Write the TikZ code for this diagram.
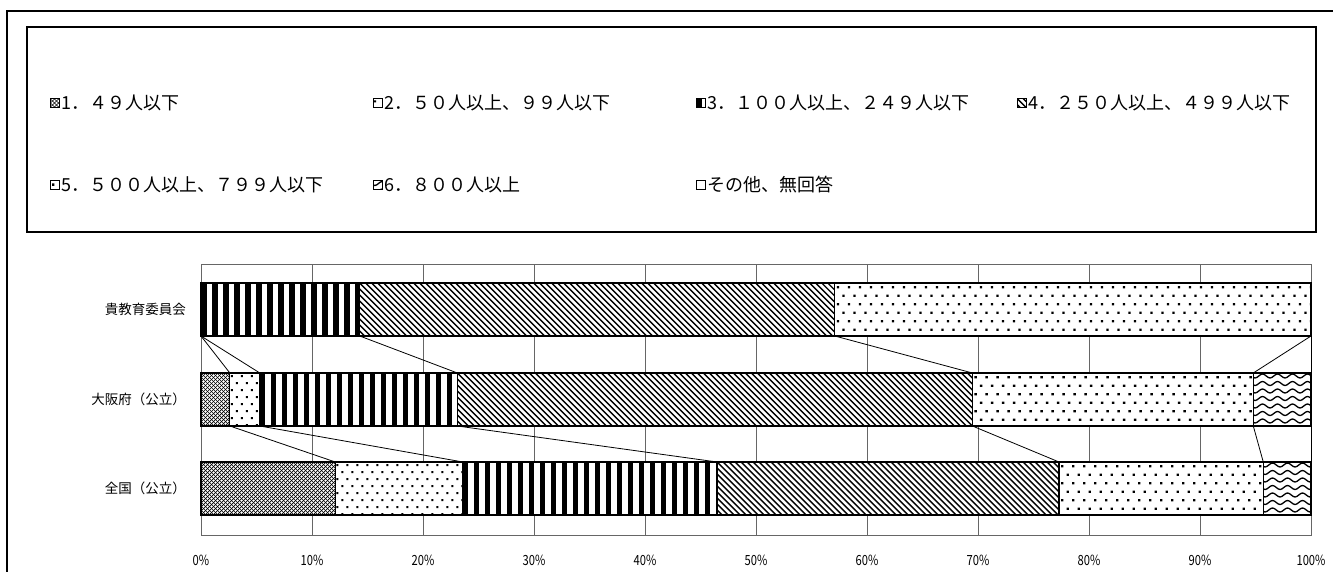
\documentclass[tikz,border=0pt]{standalone}
\usepackage{fontspec}
\setmainfont{Noto Sans CJK JP}

% fills of the six series, drawn in a box (x1,y1)-(x2,y2)
\newcommand\fillchecks[4]{%
  \pgfmathsetmacro\cstart{#1-60}\pgfmathsetmacro\cnext{#1-56}%
  \foreach \c in {\cstart,\cnext,...,#3} {
    \draw[line width=0.7pt] (\c,#2) -- ++(60,60);
    \draw[line width=0.7pt] (\c,#4) -- ++(60,-60);
  }}
\newcommand\filldots[4]{%
  \pgfmathsetmacro\ua{#1+1}\pgfmathsetmacro\ub{#1+11}%
  \pgfmathsetmacro\va{#2+2}\pgfmathsetmacro\vb{#2+16}%
  \foreach \u in {\ua,\ub,...,#3}
    \foreach \v in {\va,\vb,...,#4}
      \fill (\u,\v) rectangle ++(2,2) (\u+5,\v+7) rectangle ++(2,2);}
\newcommand\fillbars[4]{%
  \pgfmathsetmacro\cnext{#1+11}%
  \foreach \c in {#1,\cnext,...,#3}
    \fill (\c,#2) rectangle ++(5.5,60);}
\newcommand\fillhatch[4]{%
  \pgfmathsetmacro\cstart{#1-60}\pgfmathsetmacro\cnext{#1-54}%
  \foreach \c in {\cstart,\cnext,...,#3}
    \draw[line width=1.4pt] (\c,#2) -- ++(60,60);}
\newcommand\fillsparse[4]{%
  \pgfmathsetmacro\ua{#1+2}\pgfmathsetmacro\ub{#1+13}%
  \pgfmathsetmacro\va{#2+3}\pgfmathsetmacro\vb{#2+20}%
  \foreach \u in {\ua,\ub,...,#3}
    \foreach \v in {\va,\vb,...,#4}
      \fill (\u,\v) rectangle ++(2.3,2.3) (\u+5.5,\v+8.5) rectangle ++(2.3,2.3);}
\newcommand\fillwaves[4]{%
  \pgfmathsetmacro\va{#2+3}\pgfmathsetmacro\vb{#2+10.5}%
  \pgfmathsetmacro\ws{#1-2}%
  \foreach \v in {\va,\vb,...,#4}
    \draw[line width=1.3pt] (\ws,\v) \foreach \k in {1,...,6} {
      sin ++(3.75,2) cos ++(3.75,-2) sin ++(3.75,-2) cos ++(3.75,2)};}
\newcommand\fillnone[4]{}

% one patterned box with its frame
\newcommand\barpart[6][bar]{%
  \begin{scope}
    \clip (#3,#4) rectangle (#5,#6);
    \fill[white] (#3,#4) rectangle (#5,#6);
    \csname fill#2\endcsname{#3}{#4}{#5}{#6}
  \end{scope}
  \draw[#1] (#3,#4) rectangle (#5,#6);}

\begin{document}
\begin{tikzpicture}[x=1pt,y=-1pt,
    bar/.style={line width=1.2pt},
    icon/.style={line width=0.8pt},
    legtext/.style={anchor=west,inner sep=0pt,font=\fontsize{18}{20}\selectfont},
    catlab/.style={anchor=east,inner sep=0pt,font=\fontsize{13.5}{15}\selectfont},
    ticklab/.style={inner sep=0pt,font=\fontsize{14}{15}\selectfont},
    gridline/.style={draw=black!60,line width=0.9pt},
    serline/.style={line width=0.8pt}]
    \useasboundingbox (0,0) rectangle (1333,572);
    \draw[line width=1.5pt] (1333,11) -- (7,11) -- (7,572);
    \draw[line width=2pt] (27,27) rectangle (1316,232);

    % legend
    \barpart[icon]{checks}{50}{98.5}{59}{107.5}
    \node[legtext] (l1) at (61,103) {1．４９人以下};
    \barpart[icon]{dots}{373}{98.5}{382}{107.5}
    \node[legtext] (l2) at (384,103) {2．５０人以上、９９人以下};
    \barpart[icon]{bars}{696}{98.5}{705}{107.5}
    \node[legtext] (l3) at (707,103) {3．１００人以上、２４９人以下};
    \barpart[icon]{hatch}{1017}{98.5}{1026}{107.5}
    \node[legtext] (l4) at (1028,103) {4．２５０人以上、４９９人以下};
    \barpart[icon]{sparse}{50}{180.5}{59}{189.5}
    \node[legtext] (l5) at (61,185) {5．５００人以上、７９９人以下};
    \barpart[icon]{waves}{373}{180.5}{382}{189.5}
    \node[legtext] (l6) at (384,185) {6．８００人以上};
    \barpart[icon]{none}{696}{180.5}{705}{189.5}
    \node[legtext] (l7) at (707,185) {その他、無回答};

    % categories
    \node[catlab] (c1) at (186,309.5) {貴教育委員会};
    \node[catlab] (c2) at (186,399.5) {大阪府（公立）};
    \node[catlab] (c3) at (186,488.5) {全国（公立）};

    % plot area
    \draw[gridline] (201,264) rectangle (1311,535);
    \foreach \g in {10,20,...,90}
        \draw[gridline] (201+11.1*\g,264) -- (201+11.1*\g,535);
    \foreach \g in {0,10,...,100}
        \node[ticklab] (t\g) at (201+11.1*\g,560) {\scalebox{0.8}[1]{\g\%}};

    % bars
    \foreach \a/\b/\f in {0/14.3/bars,14.3/57.1/hatch,57.1/100/sparse} {
        \pgfmathsetmacro\xa{201+11.1*\a}\pgfmathsetmacro\xb{201+11.1*\b}
        \barpart{\f}{\xa}{283}{\xb}{336}
    }
    \foreach \a/\b/\f in {0/2.6/checks,2.6/5.3/dots,5.3/23.1/bars,23.1/69.5/hatch,69.5/94.8/sparse,94.8/100/waves} {
        \pgfmathsetmacro\xa{201+11.1*\a}\pgfmathsetmacro\xb{201+11.1*\b}
        \barpart{\f}{\xa}{373}{\xb}{426}
    }
    \foreach \a/\b/\f in {0/12.1/checks,12.1/23.6/dots,23.6/46.5/bars,46.5/77.3/hatch,77.3/95.7/sparse,95.7/100/waves} {
        \pgfmathsetmacro\xa{201+11.1*\a}\pgfmathsetmacro\xb{201+11.1*\b}
        \barpart{\f}{\xa}{462}{\xb}{515}
    }

    % series lines between the bars
    \foreach \v [count=\i] in {0,0,14.3,57.1,100,100}
        \coordinate (u\i) at (201+11.1*\v,336);
    \foreach \v [count=\i] in {2.6,5.3,23.1,69.5,94.8,100} {
        \coordinate (m\i) at (201+11.1*\v,373);
        \coordinate (n\i) at (201+11.1*\v,426);
    }
    \foreach \v [count=\i] in {12.1,23.6,46.5,77.3,95.7,100}
        \coordinate (d\i) at (201+11.1*\v,462);
    \foreach \i in {1,...,6}
        \draw[serline] (u\i) -- (m\i) (n\i) -- (d\i);
\end{tikzpicture}
\end{document}
